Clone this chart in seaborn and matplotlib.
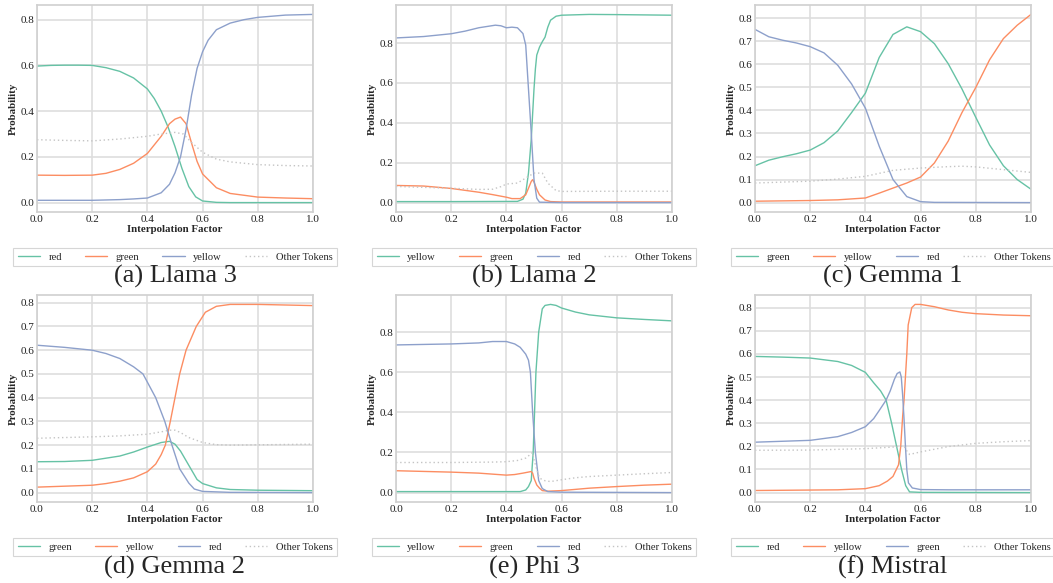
import matplotlib
matplotlib.use("Agg")
import matplotlib.pyplot as plt
import seaborn as sns

# ---------------- data ----------------
# (a) Llama 3
A_S1_NAME, A_S2_NAME, A_S3_NAME = "red", "green", "yellow"
A_S1_X = [0, 0.05, 0.1, 0.15, 0.2, 0.25, 0.3, 0.35, 0.4, 0.425, 0.45, 0.475, 0.5, 0.525, 0.55, 0.575, 0.6, 0.65, 0.7, 1.0]
A_S1_Y = [0.597, 0.6, 0.601, 0.601, 0.6, 0.59, 0.574, 0.545, 0.497, 0.455, 0.40, 0.33, 0.245, 0.15, 0.07, 0.025, 0.007, 0.001, 0.0, 0.0]
A_S2_X = [0, 0.1, 0.2, 0.25, 0.3, 0.35, 0.4, 0.45, 0.48, 0.5, 0.52, 0.54, 0.56, 0.58, 0.6, 0.65, 0.7, 0.8, 0.9, 1.0]
A_S2_Y = [0.12, 0.119, 0.12, 0.128, 0.145, 0.172, 0.215, 0.29, 0.345, 0.365, 0.374, 0.345, 0.26, 0.18, 0.125, 0.065, 0.04, 0.024, 0.02, 0.017]
A_S3_X = [0, 0.2, 0.3, 0.35, 0.4, 0.45, 0.48, 0.5, 0.52, 0.54, 0.56, 0.58, 0.6, 0.62, 0.65, 0.7, 0.75, 0.8, 0.9, 1.0]
A_S3_Y = [0.01, 0.01, 0.013, 0.016, 0.02, 0.043, 0.08, 0.13, 0.2, 0.32, 0.47, 0.587, 0.66, 0.71, 0.756, 0.785, 0.8, 0.81, 0.82, 0.823]
A_OT_X = [0, 0.1, 0.2, 0.3, 0.4, 0.45, 0.5, 0.53, 0.56, 0.6, 0.65, 0.7, 0.8, 0.9, 1.0]
A_OT_Y = [0.275, 0.272, 0.27, 0.278, 0.29, 0.3, 0.307, 0.3, 0.263, 0.22, 0.19, 0.178, 0.166, 0.162, 0.16]

# (b) Llama 2
B_S1_NAME, B_S2_NAME, B_S3_NAME = "yellow", "green", "red"
B_S1_X = [0, 0.2, 0.44, 0.46, 0.47, 0.48, 0.49, 0.5, 0.505, 0.51, 0.52, 0.53, 0.54, 0.55, 0.56, 0.58, 0.6, 0.7, 0.8, 1.0]
B_S1_Y = [0.005, 0.005, 0.006, 0.017, 0.047, 0.148, 0.317, 0.57, 0.67, 0.74, 0.78, 0.807, 0.83, 0.88, 0.915, 0.935, 0.94, 0.944, 0.943, 0.94]
B_S2_X = [0, 0.1, 0.2, 0.3, 0.35, 0.4, 0.42, 0.45, 0.47, 0.48, 0.49, 0.495, 0.5, 0.51, 0.52, 0.54, 0.56, 0.6, 1.0]
B_S2_Y = [0.086, 0.083, 0.071, 0.052, 0.04, 0.027, 0.02, 0.02, 0.039, 0.072, 0.106, 0.115, 0.103, 0.067, 0.039, 0.013, 0.005, 0.003, 0.003]
B_S3_X = [0, 0.1, 0.2, 0.25, 0.3, 0.36, 0.38, 0.4, 0.42, 0.44, 0.46, 0.47, 0.48, 0.49, 0.5, 0.51, 0.52, 0.6, 1.0]
B_S3_Y = [0.826, 0.833, 0.847, 0.86, 0.877, 0.89, 0.887, 0.877, 0.88, 0.877, 0.848, 0.79, 0.57, 0.35, 0.115, 0.022, 0.002, 0.0, 0.0]
B_OT_X = [0, 0.2, 0.3, 0.35, 0.38, 0.4, 0.44, 0.47, 0.5, 0.53, 0.55, 0.58, 0.6, 0.8, 1.0]
B_OT_Y = [0.081, 0.072, 0.066, 0.067, 0.08, 0.093, 0.098, 0.123, 0.148, 0.148, 0.098, 0.06, 0.056, 0.057, 0.057]

# (c) Gemma 1
C_S1_NAME, C_S2_NAME, C_S3_NAME = "green", "yellow", "red"
C_S1_X = [0, 0.05, 0.1, 0.15, 0.2, 0.25, 0.3, 0.35, 0.4, 0.45, 0.5, 0.55, 0.6, 0.65, 0.7, 0.75, 0.8, 0.85, 0.9, 0.95, 1.0]
C_S1_Y = [0.16, 0.184, 0.199, 0.212, 0.228, 0.26, 0.311, 0.391, 0.475, 0.63, 0.73, 0.763, 0.742, 0.69, 0.603, 0.493, 0.37, 0.25, 0.16, 0.1, 0.058]
C_S2_X = [0, 0.2, 0.3, 0.4, 0.45, 0.5, 0.55, 0.6, 0.65, 0.7, 0.75, 0.8, 0.85, 0.9, 0.95, 1.0]
C_S2_Y = [0.006, 0.009, 0.012, 0.02, 0.041, 0.063, 0.085, 0.111, 0.172, 0.267, 0.391, 0.5, 0.62, 0.712, 0.77, 0.817]
C_S3_X = [0, 0.05, 0.1, 0.15, 0.2, 0.25, 0.3, 0.35, 0.4, 0.45, 0.5, 0.55, 0.6, 0.65, 1.0]
C_S3_Y = [0.752, 0.72, 0.705, 0.693, 0.677, 0.65, 0.596, 0.515, 0.41, 0.245, 0.1, 0.026, 0.004, 0.001, 0.0]
C_OT_X = [0, 0.2, 0.3, 0.4, 0.5, 0.6, 0.7, 0.75, 0.8, 0.9, 1.0]
C_OT_Y = [0.085, 0.093, 0.102, 0.114, 0.14, 0.15, 0.156, 0.158, 0.155, 0.143, 0.131]

# (d) Gemma 2
D_S1_NAME, D_S2_NAME, D_S3_NAME = "green", "yellow", "red"
D_S1_X = [0, 0.1, 0.2, 0.3, 0.35, 0.4, 0.45, 0.48, 0.5, 0.52, 0.55, 0.58, 0.6, 0.65, 0.7, 0.8, 1.0]
D_S1_Y = [0.13, 0.131, 0.136, 0.154, 0.171, 0.192, 0.211, 0.216, 0.204, 0.175, 0.115, 0.055, 0.038, 0.02, 0.013, 0.01, 0.008]
D_S2_X = [0, 0.1, 0.2, 0.25, 0.3, 0.35, 0.4, 0.43, 0.45, 0.465, 0.483, 0.5, 0.517, 0.54, 0.577, 0.61, 0.65, 0.7, 0.8, 1.0]
D_S2_Y = [0.023, 0.027, 0.031, 0.038, 0.048, 0.062, 0.088, 0.12, 0.16, 0.2, 0.3, 0.4, 0.5, 0.6, 0.7, 0.76, 0.785, 0.793, 0.793, 0.788]
D_S3_X = [0, 0.1, 0.2, 0.25, 0.3, 0.35, 0.384, 0.43, 0.463, 0.489, 0.517, 0.55, 0.57, 0.6, 0.7, 1.0]
D_S3_Y = [0.621, 0.612, 0.6, 0.586, 0.565, 0.53, 0.5, 0.4, 0.3, 0.2, 0.1, 0.04, 0.015, 0.005, 0.001, 0.0]
D_OT_X = [0, 0.2, 0.3, 0.4, 0.45, 0.48, 0.5, 0.52, 0.55, 0.6, 0.65, 0.7, 1.0]
D_OT_Y = [0.229, 0.235, 0.239, 0.246, 0.256, 0.263, 0.263, 0.253, 0.232, 0.211, 0.202, 0.2, 0.204]

# (e) Phi 3
E_S1_NAME, E_S2_NAME, E_S3_NAME = "yellow", "green", "red"
E_S1_X = [0, 0.45, 0.47, 0.48, 0.49, 0.497, 0.502, 0.507, 0.517, 0.53, 0.54, 0.56, 0.58, 0.6, 0.65, 0.7, 0.8, 0.9, 1.0]
E_S1_Y = [0.005, 0.005, 0.013, 0.03, 0.06, 0.2, 0.4, 0.6, 0.8, 0.916, 0.933, 0.938, 0.933, 0.92, 0.9, 0.886, 0.871, 0.863, 0.856]
E_S2_X = [0, 0.2, 0.3, 0.35, 0.4, 0.43, 0.46, 0.49, 0.495, 0.5, 0.51, 0.52, 0.53, 0.55, 0.6, 0.7, 0.8, 0.9, 1.0]
E_S2_Y = [0.109, 0.102, 0.097, 0.092, 0.087, 0.09, 0.097, 0.105, 0.097, 0.072, 0.038, 0.022, 0.01, 0.007, 0.01, 0.022, 0.03, 0.037, 0.042]
E_S3_X = [0, 0.2, 0.3, 0.35, 0.4, 0.43, 0.45, 0.47, 0.48, 0.487, 0.495, 0.505, 0.517, 0.53, 0.55, 0.6, 1.0]
E_S3_Y = [0.736, 0.741, 0.746, 0.753, 0.753, 0.741, 0.724, 0.69, 0.66, 0.6, 0.4, 0.2, 0.06, 0.02, 0.005, 0.002, 0.0]
E_OT_X = [0, 0.2, 0.35, 0.4, 0.44, 0.47, 0.49, 0.495, 0.5, 0.51, 0.52, 0.54, 0.56, 0.6, 0.65, 0.7, 0.8, 0.9, 1.0]
E_OT_Y = [0.15, 0.15, 0.152, 0.154, 0.16, 0.172, 0.194, 0.2, 0.164, 0.114, 0.072, 0.059, 0.055, 0.064, 0.074, 0.08, 0.087, 0.094, 0.1]

# (f) Mistral
F_S1_NAME, F_S2_NAME, F_S3_NAME = "red", "yellow", "green"
F_S1_X = [0, 0.1, 0.2, 0.3, 0.35, 0.4, 0.43, 0.455, 0.475, 0.495, 0.513, 0.531, 0.546, 0.56, 0.6, 1.0]
F_S1_Y = [0.589, 0.586, 0.582, 0.567, 0.55, 0.52, 0.475, 0.44, 0.4, 0.3, 0.2, 0.1, 0.03, 0.003, 0.001, 0.0]
F_S2_X = [0, 0.3, 0.4, 0.45, 0.48, 0.5, 0.52, 0.528, 0.535, 0.54, 0.55, 0.555, 0.568, 0.58, 0.6, 0.65, 0.7, 0.75, 0.8, 0.9, 1.0]
F_S2_Y = [0.009, 0.012, 0.017, 0.03, 0.05, 0.07, 0.12, 0.2, 0.33, 0.4, 0.6, 0.725, 0.8, 0.814, 0.814, 0.804, 0.79, 0.78, 0.774, 0.768, 0.765]
F_S3_X = [0, 0.2, 0.3, 0.35, 0.4, 0.43, 0.45, 0.475, 0.49, 0.505, 0.515, 0.525, 0.53, 0.535, 0.54, 0.545, 0.55, 0.556, 0.57, 0.6, 0.7, 1.0]
F_S3_Y = [0.218, 0.226, 0.242, 0.26, 0.285, 0.32, 0.355, 0.4, 0.44, 0.49, 0.515, 0.522, 0.5, 0.42, 0.318, 0.202, 0.1, 0.042, 0.02, 0.013, 0.012, 0.012]
F_OT_X = [0, 0.2, 0.4, 0.5, 0.54, 0.55, 0.56, 0.6, 0.7, 0.8, 0.9, 1.0]
F_OT_Y = [0.183, 0.184, 0.19, 0.197, 0.202, 0.18, 0.165, 0.176, 0.199, 0.213, 0.22, 0.225]

CAPTIONS = ["(a) Llama 3", "(b) Llama 2", "(c) Gemma 1", "(d) Gemma 2", "(e) Phi 3", "(f) Mistral"]
OTHER_LABEL = "Other Tokens"
X_LABEL = "Interpolation Factor"
Y_LABEL = "Probability"

PANELS = [
    [(A_S1_NAME, A_S1_X, A_S1_Y), (A_S2_NAME, A_S2_X, A_S2_Y), (A_S3_NAME, A_S3_X, A_S3_Y), (OTHER_LABEL, A_OT_X, A_OT_Y)],
    [(B_S1_NAME, B_S1_X, B_S1_Y), (B_S2_NAME, B_S2_X, B_S2_Y), (B_S3_NAME, B_S3_X, B_S3_Y), (OTHER_LABEL, B_OT_X, B_OT_Y)],
    [(C_S1_NAME, C_S1_X, C_S1_Y), (C_S2_NAME, C_S2_X, C_S2_Y), (C_S3_NAME, C_S3_X, C_S3_Y), (OTHER_LABEL, C_OT_X, C_OT_Y)],
    [(D_S1_NAME, D_S1_X, D_S1_Y), (D_S2_NAME, D_S2_X, D_S2_Y), (D_S3_NAME, D_S3_X, D_S3_Y), (OTHER_LABEL, D_OT_X, D_OT_Y)],
    [(E_S1_NAME, E_S1_X, E_S1_Y), (E_S2_NAME, E_S2_X, E_S2_Y), (E_S3_NAME, E_S3_X, E_S3_Y), (OTHER_LABEL, E_OT_X, E_OT_Y)],
    [(F_S1_NAME, F_S1_X, F_S1_Y), (F_S2_NAME, F_S2_X, F_S2_Y), (F_S3_NAME, F_S3_X, F_S3_Y), (OTHER_LABEL, F_OT_X, F_OT_Y)],
]

# ---------------- style ----------------
sns.set_theme(style="whitegrid", rc={
    "grid.color": "#dedede",
    "grid.linewidth": 1.2,
    "axes.edgecolor": "#d0d0d0",
    "axes.linewidth": 1.2,
})
plt.rcParams["font.family"] = ["Liberation Serif", "DejaVu Serif"]

palette = sns.color_palette("Set2", 3)
OTHER_COLOR = "#c4c4c4"

fig = plt.figure(figsize=(10.53, 5.83), dpi=100)
W, H = 1053.0, 583.0
col_left = [37, 396, 755]
row_top = [5, 295]
ax_w, ax_h = 276, 207
cap_y = [276, 567]

for i, series in enumerate(PANELS):
    r, c = divmod(i, 3)
    ax = fig.add_axes([col_left[c] / W, 1 - (row_top[r] + ax_h) / H, ax_w / W, ax_h / H])
    for k, (name, xs, ys) in enumerate(series):
        if k < 3:
            sns.lineplot(x=xs, y=ys, ax=ax, color=palette[k], linewidth=1.0, label=name)
        else:
            sns.lineplot(x=xs, y=ys, ax=ax, color=OTHER_COLOR, linewidth=1.0,
                         linestyle=(0, (1, 2)), label=name)
    ax.set_xlim(0, 1)
    ax.set_xticks([0.0, 0.2, 0.4, 0.6, 0.8, 1.0])
    ax.tick_params(axis="both", labelsize=8, pad=2, length=0, colors="#222222")
    ax.set_xlabel(X_LABEL, fontsize=7.8, fontweight="bold", labelpad=1)
    ax.set_ylabel(Y_LABEL, fontsize=7.8, fontweight="bold", labelpad=2)
    leg = ax.legend(loc="upper center", bbox_to_anchor=(0.5, -0.15), ncol=4,
                    fontsize=7.6, frameon=True, handlelength=2.1, columnspacing=2.2,
                    borderpad=0.4, handletextpad=0.8, fancybox=False)
    leg.get_frame().set_edgecolor("#cccccc")
    leg.get_frame().set_linewidth(0.8)
    cx = (col_left[c] + ax_w / 2) / W
    fig.text(cx, 1 - cap_y[r] / H, CAPTIONS[i], ha="center", va="center", fontsize=19)

fig.savefig("out.png", dpi=100)
